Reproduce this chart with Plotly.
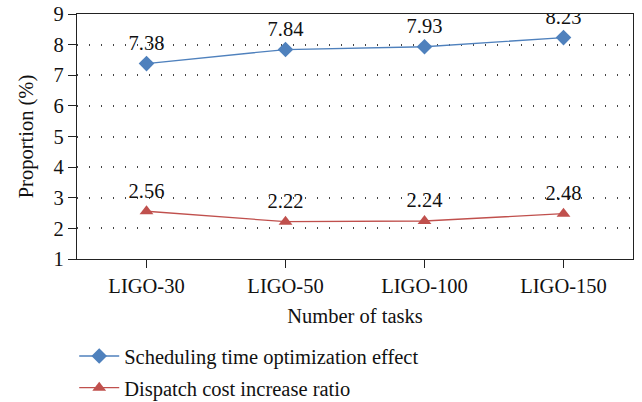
import plotly.graph_objects as go

categories = ["LIGO-30", "LIGO-50", "LIGO-100", "LIGO-150"]
sched_effect = [7.38, 7.84, 7.93, 8.23]
cost_ratio = [2.56, 2.22, 2.24, 2.48]
series_names = ["Scheduling time optimization effect", "Dispatch cost increase ratio"]

FONT = "Liberation Serif"
FS = 20.5

fig = go.Figure()
fig.add_trace(go.Scatter(
    x=categories, y=sched_effect, name=series_names[0],
    mode="lines+markers+text", text=[f"{v:.2f}" for v in sched_effect],
    textposition="top center", textfont=dict(family=FONT, size=FS, color="#111"),
    line=dict(color="#4f81bd", width=1.3),
    marker=dict(symbol="diamond", size=12, color="#4f81bd"),
    legendgroup="a",
))
fig.add_trace(go.Scatter(
    x=categories, y=cost_ratio, name=series_names[1],
    mode="lines+markers+text", text=[f"{v:.2f}" for v in cost_ratio],
    textposition="top center", textfont=dict(family=FONT, size=FS, color="#111"),
    line=dict(color="#c0504d", width=1.3),
    marker=dict(symbol="triangle-up", size=12, color="#c0504d"),
    legendgroup="b",
))

fig.update_layout(
    width=642, height=402,
    margin=dict(l=77, r=9, t=14, b=143, autoexpand=False),
    paper_bgcolor="white", plot_bgcolor="white",
    font=dict(family=FONT, size=FS, color="#111"),
    showlegend=True,
    legend=dict(
        x=-0.005, y=-0.315, xanchor="left", yanchor="top",
        orientation="v", tracegroupgap=2, itemwidth=40,
        font=dict(family=FONT, size=FS, color="#111"),
        bgcolor="rgba(0,0,0,0)",
    ),
    xaxis=dict(
        type="category", range=[-0.5, 3.5],
        showline=True, linecolor="#222", linewidth=1.2, mirror=True,
        ticks="outside", ticklen=8, tickcolor="#222",
        showgrid=False,
        title=dict(text="Number of tasks", standoff=12, font=dict(family=FONT, size=FS)),
        tickfont=dict(family=FONT, size=FS),
    ),
    yaxis=dict(
        range=[1, 9], dtick=1,
        showline=True, linecolor="#222", linewidth=1.2, mirror=True,
        ticks="outside", ticklen=8, tickcolor="#222",
        showgrid=True, gridcolor="#444", griddash="1px,11px", gridwidth=1.5,
        title=dict(text="Proportion (%)", standoff=14, font=dict(family=FONT, size=FS)),
        tickfont=dict(family=FONT, size=FS),
        zeroline=False,
    ),
)

fig.write_html("out.html")
